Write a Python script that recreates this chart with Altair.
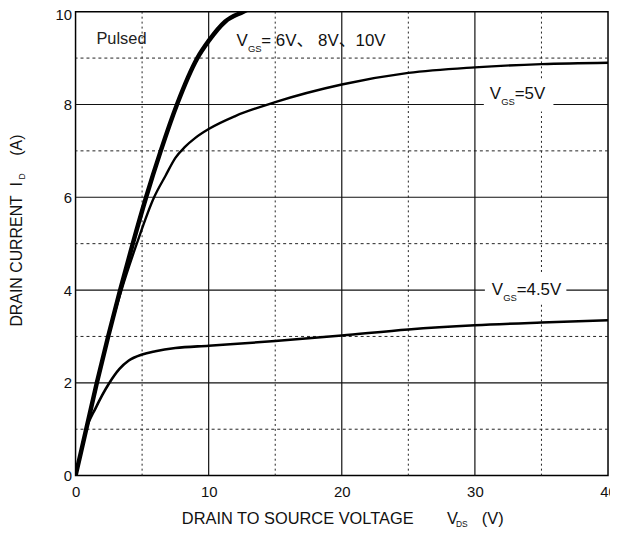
import altair as alt
import pandas as pd

# ---- data ----
vds_high = [0, 0.8, 1.6, 2.45, 3.35, 4.3, 5.3, 6.4, 7.62, 9.15, 10, 11.25, 12.6, 14]
id_high = [0, 1.0, 2.0, 3.0, 4.0, 5.0, 6.0, 7.0, 8.0, 9.0, 9.37, 9.79, 10.0, 10.2]

vds_5v = [0, 0.8, 1.6, 2.45, 3.45, 4.6, 5.9, 6.77, 7.5, 8.2, 9.0, 10, 12, 15, 20, 25, 30, 35, 40]
id_5v = [0, 1.0, 2.0, 3.0, 4.0, 5.0, 6.0, 6.47, 6.85, 7.08, 7.28, 7.47, 7.75, 8.05, 8.43, 8.68, 8.8, 8.87, 8.9]

vds_45v = [0, 0.4, 0.8, 1.5, 2.5, 3.3, 4.0, 5, 6, 7.5, 10, 15, 20, 25, 30, 35, 40]
id_45v = [0, 0.5, 1.0, 1.45, 1.98, 2.3, 2.48, 2.61, 2.68, 2.75, 2.8, 2.9, 3.02, 3.15, 3.24, 3.3, 3.35]

x_ticks = [0, 10, 20, 30, 40]
y_ticks = [0, 2, 4, 6, 8, 10]
x_major = [10, 20, 30]
x_minor = [5, 15, 25, 35]
y_major = [2, 4, 6, 8]
y_minor = [1, 3, 5, 7, 9]

label_x = [12.09, 31.12, 31.27]
label_y = [9.25, 8.12, 3.9]
label_rest = ["= 6V\u3001 8V\u300110V", "=5V", "=4.5V"]

# white boxes behind the labels that break the grid lines
box_x1 = [30.67, 30.75]
box_x2 = [35.9, 36.87]
box_y1 = [7.85, 3.7]
box_y2 = [8.55, 4.35]

FONT = "Liberation Sans, Arial, Noto Sans CJK SC, sans-serif"
INK = "#111111"

xs = alt.Scale(domain=[0, 40], nice=False, zero=True)
ys = alt.Scale(domain=[0, 10], nice=False, zero=True)
xaxis = alt.Axis(values=x_ticks, grid=False, ticks=False, domain=False, title="",
                 labelPadding=9, labelFontSize=15, labelFont=FONT, labelColor=INK,
                 labelFlush=False, labelOverlap=False)
yaxis = alt.Axis(values=y_ticks, grid=False, ticks=False, domain=False, title="",
                 labelPadding=4, labelFontSize=15, labelFont=FONT, labelColor=INK,
                 labelFlush=False, labelOverlap=False,
                 labelOffset={"condition": {"test": "datum.value == 10", "value": 3}, "value": 0})


def X(f):
    return alt.X(f, type="quantitative", scale=xs, axis=xaxis)


def Y(f):
    return alt.Y(f, type="quantitative", scale=ys, axis=yaxis)


grid_x_minor = alt.Chart(pd.DataFrame({"x": x_minor})).mark_rule(
    color="#222", strokeWidth=1, strokeDash=[2, 3]).encode(x=X("x"))
grid_y_minor = alt.Chart(pd.DataFrame({"y": y_minor})).mark_rule(
    color="#222", strokeWidth=1, strokeDash=[3, 3]).encode(y=Y("y"))
grid_x_major = alt.Chart(pd.DataFrame({"x": x_major})).mark_rule(
    color="#111", strokeWidth=1.2).encode(x=X("x"))
grid_y_major = alt.Chart(pd.DataFrame({"y": y_major})).mark_rule(
    color="#111", strokeWidth=1.2).encode(y=Y("y"))

boxes = alt.Chart(pd.DataFrame({"x": box_x1, "x2": box_x2, "y": box_y1, "y2": box_y2})).mark_rect(
    color="white").encode(x=X("x"), x2="x2", y=Y("y"), y2="y2")

c_high = alt.Chart(pd.DataFrame({"x": vds_high, "y": id_high})).mark_line(
    color="black", strokeWidth=4.5, interpolate="monotone", clip=True).encode(
    x=X("x"), y=Y("y"), order="x:Q")
c_5v = alt.Chart(pd.DataFrame({"x": vds_5v, "y": id_5v})).mark_line(
    color="black", strokeWidth=2.4, interpolate="monotone", clip=True).encode(
    x=X("x"), y=Y("y"), order="x:Q")
c_45v = alt.Chart(pd.DataFrame({"x": vds_45v, "y": id_45v})).mark_line(
    color="black", strokeWidth=2.6, interpolate="monotone", clip=True).encode(
    x=X("x"), y=Y("y"), order="x:Q")

lab_df = pd.DataFrame({"x": label_x, "y": label_y, "v": ["V"] * 3, "gs": ["GS"] * 3, "rest": label_rest})
lab_v = alt.Chart(lab_df).mark_text(align="left", baseline="alphabetic", font=FONT,
                                    fontSize=17, color=INK).encode(x=X("x"), y=Y("y"), text="v:N")
lab_gs = alt.Chart(lab_df).mark_text(align="left", baseline="alphabetic", font=FONT,
                                     fontSize=9.5, color=INK, dx=11.5, dy=6).encode(x=X("x"), y=Y("y"), text="gs:N")
lab_rest = alt.Chart(lab_df).mark_text(align="left", baseline="alphabetic", font=FONT,
                                       fontSize=17, color=INK, dx=25).encode(x=X("x"), y=Y("y"), text="rest:N")

pulsed = alt.Chart(pd.DataFrame({"x": [1.57], "y": [9.31], "t": ["Pulsed"]})).mark_text(
    align="left", baseline="alphabetic", font=FONT, fontSize=16.5, color="#222").encode(
    x=X("x"), y=Y("y"), text="t:N")


def ptext(t, x, y, size=16.5, angle=0):
    return alt.Chart(pd.DataFrame({"t": [t]})).mark_text(
        align="left", baseline="alphabetic", font=FONT, fontSize=size, color=INK, angle=angle).encode(
        x=alt.value(x), y=alt.value(y), text="t:N")


xt1 = ptext("DRAIN TO SOURCE VOLTAGE", 107, 516)
xt2 = ptext("V", 374, 516)
xt3 = ptext("DS", 383, 519, size=8.5)
xt4 = ptext("(V)", 409, 516)

yt1 = ptext("DRAIN CURRENT", -54, 317, size=16, angle=270)
yt2 = ptext("I", -54, 176, size=16, angle=270)
yt3 = ptext("D", -51, 169, size=8.5, angle=270)
yt4 = ptext("(A)", -54, 145, size=16, angle=270)

chart = alt.layer(
    grid_x_minor, grid_y_minor, grid_x_major, grid_y_major, boxes,
    c_45v, c_5v, c_high,
    lab_v, lab_gs, lab_rest, pulsed,
    xt1, xt2, xt3, xt4, yt1, yt2, yt3, yt4,
).properties(
    width=536, height=467,
    autosize=alt.AutoSizeParams(type="none"),
    padding={"left": 68, "top": 2, "right": 2, "bottom": 50},
    background="white",
).configure_view(stroke="black", strokeWidth=1.5)

chart.save("out.html", embed_options={"renderer": "svg", "actions": False})
